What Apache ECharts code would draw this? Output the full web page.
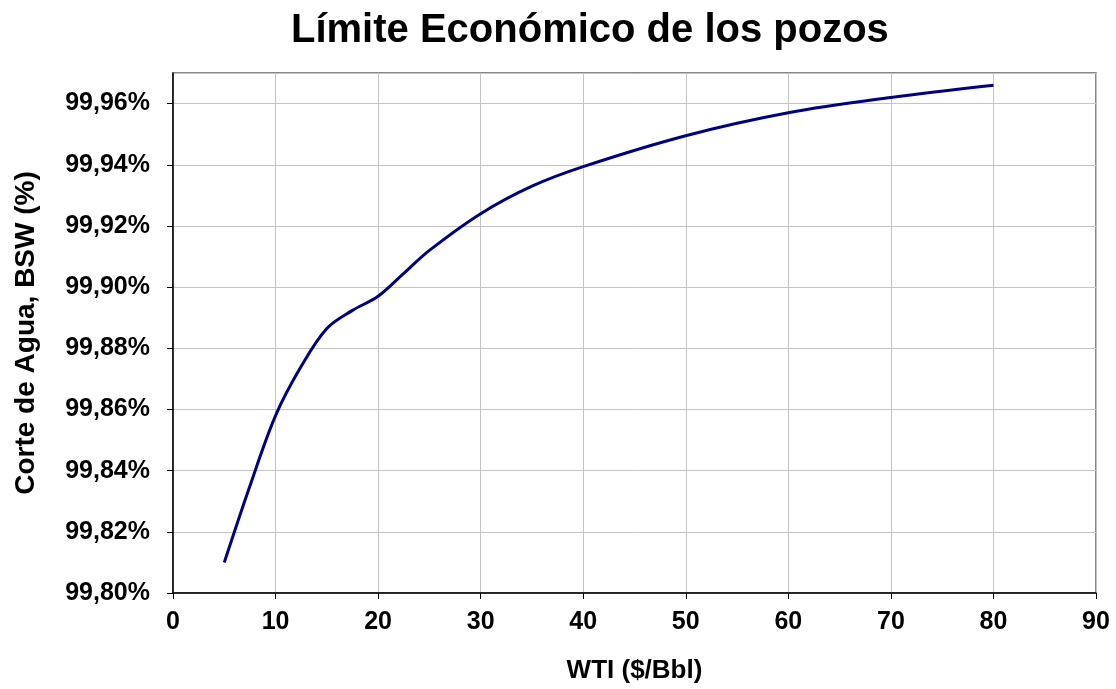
<!DOCTYPE html>
<html>
<head>
<meta charset="utf-8">
<script src="https://cdn.jsdelivr.net/npm/echarts@6/dist/echarts.min.js"></script>
<style>html,body{margin:0;padding:0;background:#fff}#c{width:1116px;height:689px}</style>
</head>
<body>
<div id="c"></div>
<script>
const titleText = 'Límite Económico de los pozos';
const xAxisName = 'WTI ($/Bbl)';
const yAxisName = 'Corte de Agua, BSW (%)';
const wti = [5, 7.5, 10, 12.5, 15, 17.5, 20, 22.5, 25, 30, 35, 40, 50, 60, 70, 80];
const bsw = [99.810, 99.835, 99.858, 99.8741, 99.8865, 99.8924, 99.897, 99.9045, 99.912, 99.924, 99.933, 99.9394, 99.9495, 99.957, 99.962, 99.966];

const chart = echarts.init(document.getElementById('c'));
chart.setOption({
  animation: false,
  backgroundColor: '#fff',
  title: {
    text: titleText, left: 286, top: 6,
    textStyle: { fontFamily: 'Liberation Sans', fontWeight: 'bold', fontSize: 40, color: '#000' }
  },
  grid: { left: 173, right: 20, top: 73, bottom: 95, show: true, borderColor: '#606060', borderWidth: 1.5, backgroundColor: 'transparent' },
  xAxis: {
    type: 'value', min: 0, max: 90, interval: 10,
    name: xAxisName, nameLocation: 'middle', nameGap: 65,
    nameTextStyle: { fontFamily: 'Liberation Sans', fontWeight: 'bold', fontSize: 26, color: '#000' },
    axisLine: { show: true, lineStyle: { color: '#000', width: 1.5 } },
    axisTick: { show: true, length: 6, lineStyle: { color: '#000', width: 1 } },
    axisLabel: { margin: 17, fontFamily: 'Liberation Sans', fontWeight: 'bold', fontSize: 25, color: '#000' },
    splitLine: { show: true, lineStyle: { color: '#c4c4c4', width: 1 } }
  },
  yAxis: {
    type: 'value', min: 99.80, max: 99.97, interval: 0.02,
    name: yAxisName, nameLocation: 'middle', nameGap: 133, nameRotate: 90,
    nameTextStyle: { fontFamily: 'Liberation Sans', fontWeight: 'bold', fontSize: 28, color: '#000' },
    axisLine: { show: true, lineStyle: { color: '#000', width: 1.5 } },
    axisTick: { show: true, length: 6, lineStyle: { color: '#000', width: 1 } },
    axisLabel: {
      margin: 23, showMaxLabel: false, fontFamily: 'Liberation Sans', fontWeight: 'bold', fontSize: 25, color: '#000',
      formatter: v => v.toFixed(2).replace('.', ',') + '%'
    },
    splitLine: { show: true, lineStyle: { color: '#c4c4c4', width: 1 } }
  },
  series: [{
    type: 'line', smooth: 0.35, showSymbol: false,
    data: wti.map((x, i) => [x, bsw[i]]),
    lineStyle: { color: '#000080', width: 3 }
  }]
});
</script>
</body>
</html>
